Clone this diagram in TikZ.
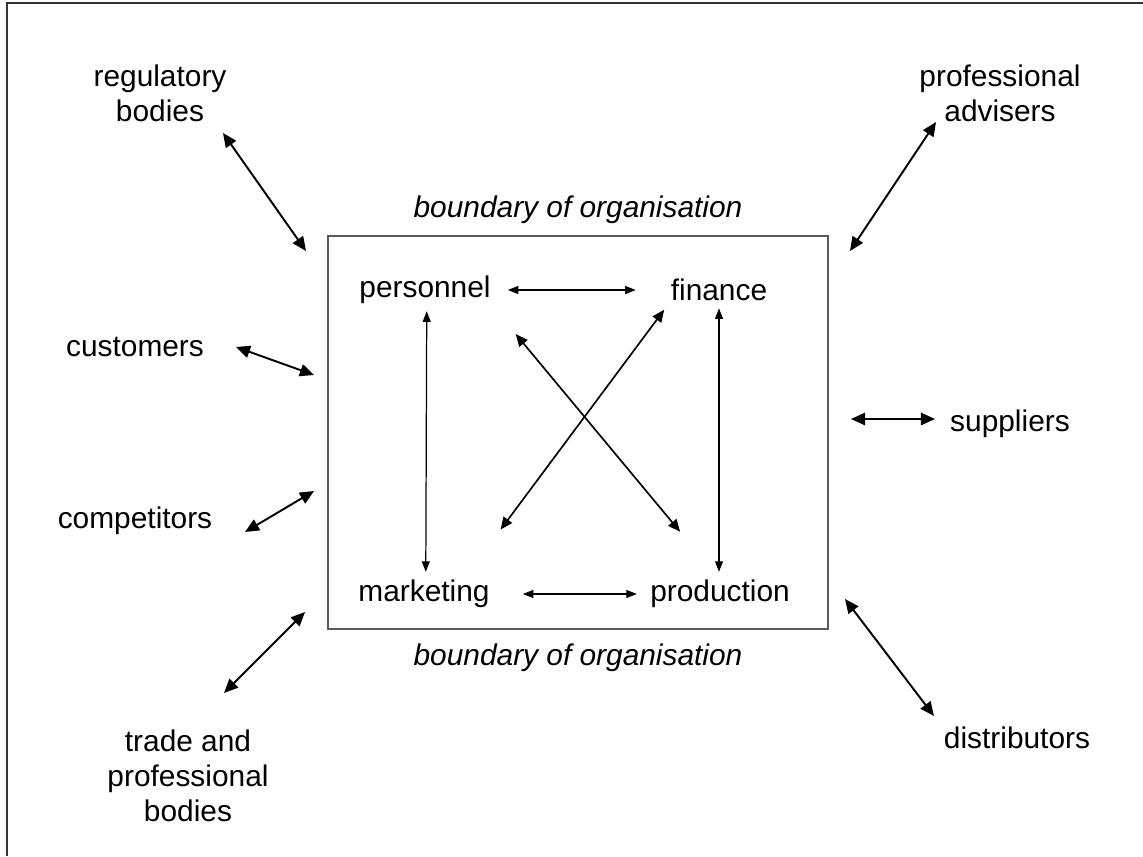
\documentclass[tikz,border=0pt]{standalone}
\usepackage{fontspec}
\setmainfont{Liberation Sans}
\usetikzlibrary{arrows.meta}

\tikzset{
  lbl/.style={font=\fontsize{17}{20}\selectfont, align=center, inner sep=0pt},
  inarrow/.style={{Triangle[length=6pt,width=4.5pt]}-{Triangle[length=6pt,width=4.5pt]}, line width=0.7pt},
  diagarrow/.style={{Triangle[length=7pt,width=6pt]}-{Triangle[length=7pt,width=6pt]}, line width=0.95pt},
  outarrow/.style={{Triangle[length=8pt,width=7pt]}-{Triangle[length=8pt,width=7pt]}, line width=1.1pt},
}

\begin{document}
\begin{tikzpicture}[x=0.02cm,y=-0.02cm]%organisation and its environment
\useasboundingbox (0,0) rectangle (1143,856);
\draw [black!80, line width=0.6pt] (7,856) -- (7,3) -- (1143,3);
% boundary of organisation
\draw [gray!70!black, line width=0.8pt] (328,236) rectangle (828,629);
  \node [lbl, font=\fontsize{17}{20}\selectfont\itshape] (btop) at (578,210) {boundary of organisation};
  \node [lbl, font=\fontsize{17}{20}\selectfont\itshape] (bbot) at (578,658) {boundary of organisation};
% departments
  \node [lbl] (pers) at (425,290) {personnel};
  \node [lbl] (fin) at (719,290) {finance};
  \node [lbl] (mark) at (424,594) {marketing};
  \node [lbl] (prod) at (720,594) {production};
\draw [inarrow, shorten <=9.6pt, shorten >=19.8pt] (pers.east) -- (fin.west);
\draw [inarrow, shorten <=18.7pt, shorten >=7.4pt] (mark.east) -- (prod.west);
\draw [inarrow, shorten <=4pt, shorten >=4.5pt] ([xshift=1pt]pers.south) -- ([xshift=1pt]mark.north);
\draw [inarrow, shorten <=4pt, shorten >=4.5pt] (fin.south) -- (fin.south |- mark.north);
\draw [diagarrow, shorten <=22pt, shorten >=35.5pt] (pers.south east) -- (prod.north);
\draw [diagarrow, shorten <=6pt, shorten >=35.6pt] (fin.south west) -- (mark.20);
% outside the organisation
  \node [lbl] (reg) at (160,93) {regulatory\\bodies};
  \node [lbl] (adv) at (1000,93) {professional\\advisers};
  \node [lbl] (cust) at (135,347) {customers};
  \node [lbl] (comp) at (135,521) {competitors};
  \node [lbl] (trade) at (188,776) {trade and\\professional\\bodies};
  \node [lbl] (supp) at (1010,424) {suppliers};
  \node [lbl] (dist) at (1017,738) {distributors};
  \coordinate (regIn) at (306,251);
  \coordinate (advIn) at (850,251);
  \coordinate (custIn) at (314,375);
  \coordinate (compIn) at (314,491);
  \coordinate (tradeIn) at (305,612);
  \coordinate (suppIn) at (851,419);
  \coordinate (distIn) at (845,599);
\draw [outarrow] (reg) ++(63,40) -- (regIn);
\draw [outarrow] (adv) ++(-64,29) -- (advIn);
\draw [outarrow] (cust) ++(101,0) -- (custIn);
\draw [outarrow] (comp) ++(110,11) -- (compIn);
\draw [outarrow] (trade) ++(36,-83) -- (tradeIn);
\draw [outarrow] (supp) ++(-75,-5) -- (suppIn);
\draw [outarrow] (dist) ++(-83,-22) -- (distIn);
\end{tikzpicture}
\end{document}
